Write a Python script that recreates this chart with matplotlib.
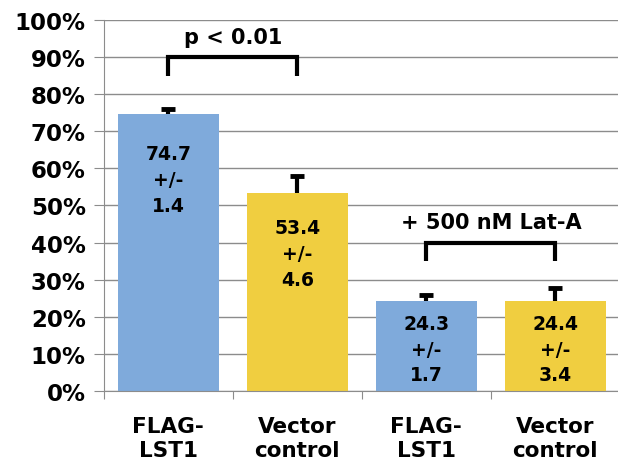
import matplotlib
matplotlib.use("Agg")
import matplotlib.pyplot as plt
import numpy as np

categories = ["FLAG-\nLST1", "Vector\ncontrol", "FLAG-\nLST1", "Vector\ncontrol"]
values = [74.7, 53.4, 24.3, 24.4]
errors = [1.4, 4.6, 1.7, 3.4]
colors = ["#7FAADB", "#F0CE40", "#7FAADB", "#F0CE40"]
label_y = [57, 37, 11.3, 11.3]
yticks = list(range(0, 101, 10))

plt.rcParams['font.family'] = ['DejaVu Sans']
plt.rcParams['font.weight'] = 'bold'

fig = plt.figure(figsize=(6.18, 4.64), dpi=100)
ax = fig.add_axes([0.168, 0.155, 0.835, 0.800])

x = np.arange(len(categories))
ax.bar(x, values, width=0.78, color=colors, zorder=2)
tops = np.array(values) + np.array(errors)
ax.vlines(x, values, tops, color='black', lw=3, zorder=3)
ax.plot(x, tops, linestyle='none', marker='_', markersize=10, mew=3.5,
        color='black', zorder=3)

for xi, v, e, ly in zip(x, values, errors, label_y):
    ax.text(xi, ly, f"{v}\n+/-\n{e}", ha='center', va='center',
            fontsize=13.5, fontweight='bold', linespacing=1.45, zorder=4)

def bracket(x0, x1, ytop, yleg, text, ytext):
    ax.plot([x0, x0, x1, x1], [yleg, ytop, ytop, yleg], color='black', lw=3,
            solid_capstyle='butt', solid_joinstyle='miter', zorder=4, clip_on=False)
    ax.text((x0 + x1) / 2, ytext, text, ha='center', va='center',
            fontsize=15, fontweight='bold')

bracket(0, 1, 90, 85, "p < 0.01", 95.5)
bracket(2, 3, 40, 35, "+ 500 nM Lat-A", 45.5)

ax.set_ylim(0, 100)
ax.set_xlim(-0.5, 3.5)
ax.set_yticks(yticks)
ax.set_yticklabels([f"{t}%" for t in yticks], fontsize=16.5, fontweight='bold')
ax.yaxis.grid(True, color='#8C8C8C', lw=1, zorder=0)
ax.set_axisbelow(True)

ax.set_xticks([-0.5, 0.5, 1.5, 2.5, 3.5])
ax.set_xticklabels([])
ax.set_xticks(x, minor=True)
ax.set_xticklabels(categories, minor=True, fontsize=15.5, fontweight='bold', linespacing=1.25)
ax.tick_params(axis='x', which='minor', length=0, pad=18)
ax.tick_params(axis='x', which='major', length=6, color='#8C8C8C', direction='out')
ax.tick_params(axis='y', length=7, color='#8C8C8C', pad=6)

for s in ['top', 'right']:
    ax.spines[s].set_visible(False)
ax.spines['left'].set_color('#8C8C8C')
ax.spines['bottom'].set_color('#8C8C8C')

fig.savefig("out.png", dpi=100)
